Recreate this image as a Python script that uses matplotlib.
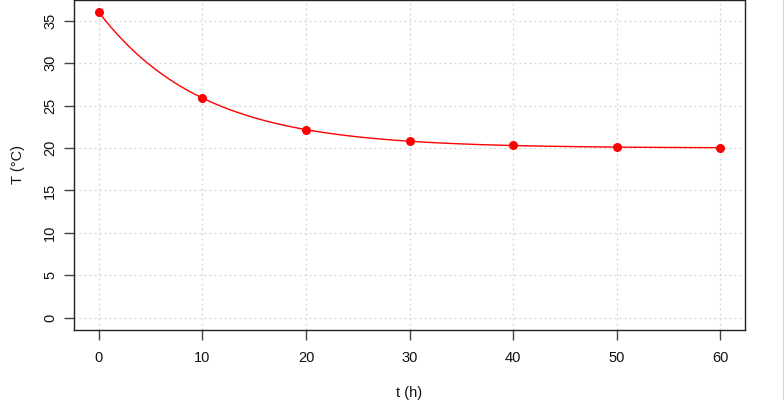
import numpy as np
import matplotlib
matplotlib.use("Agg")
import matplotlib.pyplot as plt
from matplotlib.lines import Line2D

# Data
t_hours = [0, 10, 20, 30, 40, 50, 60]
temp_c = [36.0, 25.9, 22.15, 20.8, 20.3, 20.1, 20.05]
x_ticks = [0, 10, 20, 30, 40, 50, 60]
y_ticks = [0, 5, 10, 15, 20, 25, 30, 35]
x_label = "t (h)"
y_label = "T (°C)"

plt.rcParams['font.family'] = ['Liberation Sans', 'DejaVu Sans']

t = np.array(t_hours, dtype=float)
T = np.array(temp_c, dtype=float)

# Fit Newton cooling curve T = a + b*exp(-k t) to the points
best = None
for k in np.linspace(0.01, 0.5, 2000):
    A = np.column_stack([np.ones_like(t), np.exp(-k * t)])
    coef, res, *_ = np.linalg.lstsq(A, T, rcond=None)
    sse = np.sum((A @ coef - T) ** 2)
    if best is None or sse < best[0]:
        best = (sse, k, coef)
_, k_fit, (a_fit, b_fit) = best
tt = np.linspace(t.min(), t.max(), 400)
TT = a_fit + b_fit * np.exp(-k_fit * tt)

fig = plt.figure(figsize=(7.84, 4.0), dpi=100)
ax = fig.add_axes([74 / 784, 70 / 400, (745 - 74) / 784, 330 / 400])

ax.set_xlim(-2.4, 62.4)
ax.set_ylim(-1.44, 37.44)
ax.set_xticks(x_ticks)
ax.set_yticks(y_ticks)
ax.set_xticklabels([str(v) for v in x_ticks])
ax.set_yticklabels([str(v) for v in y_ticks], rotation=90, va='center')

for v in x_ticks:
    ax.axvline(v, color='#d3d3d3', lw=0.9, ls=(0, (1.5, 2.5)), zorder=0)
for v in y_ticks:
    ax.axhline(v, color='#d3d3d3', lw=0.9, ls=(0, (1.5, 2.5)), zorder=0)

ax.plot(tt, TT, color='red', lw=1.0, zorder=2)
ax.plot(t, T, 'o', color='red', markersize=6.5, markeredgewidth=0, zorder=3)

for s in ax.spines.values():
    s.set_color('#222222')
    s.set_linewidth(1.0)

ax.tick_params(axis='both', direction='out', length=7, width=1.0,
               color='#444444', labelsize=10.5, labelcolor='#111111', pad=8)
ax.tick_params(axis='y', pad=5)

ax.set_xlabel(x_label, fontsize=10.5, color='#111111', labelpad=15.5)
ax.set_ylabel(y_label, fontsize=10.5, color='#111111', labelpad=13)

fig.add_artist(Line2D([783.5 / 784, 783.5 / 784], [0, 1], color='#6b1f2a',
                      lw=1.0, transform=fig.transFigure))

fig.savefig("out.png", dpi=100)
